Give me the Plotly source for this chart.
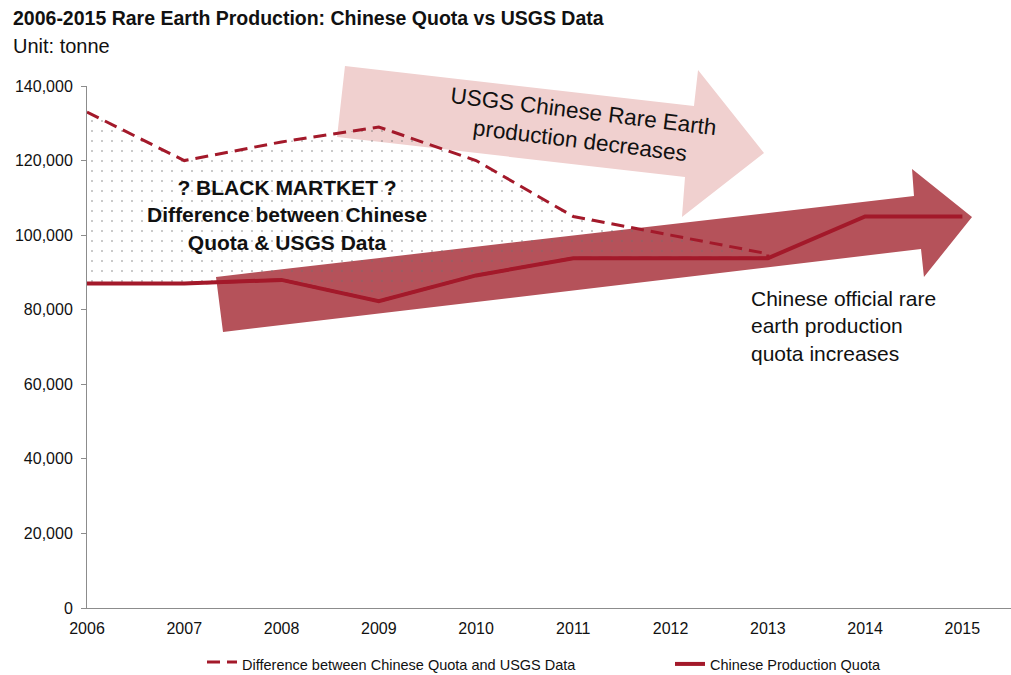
import plotly.graph_objects as go

years = [2006, 2007, 2008, 2009, 2010, 2011, 2012, 2013, 2014, 2015]
quota = [87000, 87000, 88000, 82300, 89200, 93800, 93800, 93800, 105000, 105000]
usgs_years = [2006, 2007, 2008, 2009, 2010, 2011, 2012, 2013]
usgs = [133000, 120000, 125000, 129000, 120000, 105000, 100000, 95000]

y_ticks = [0, 20000, 40000, 60000, 80000, 100000, 120000, 140000]

RED = "#a3192a"
FONT = "Liberation Sans, Arial, sans-serif"

W, H = 1011, 675
L, R, T, B = 87, 0, 86, 67
PW, PH = W - L - R, H - T - B


def px(x, y):
    return (x - L) / PW, (H - B - y) / PH


def path(points):
    pts = [px(x, y) for x, y in points]
    return "M " + " L ".join(f"{a:.4f},{b:.4f}" for a, b in pts) + " Z"


pink_arrow = [(345, 66), (694, 106), (698, 70), (764, 153), (682, 217), (685, 177), (337, 137)]
dark_arrow = [(216, 277), (914, 196), (912, 169), (972, 217), (924, 277), (921, 249), (223, 332)]

# closed polygon: USGS line forward, quota line back
poly_x = usgs_years + usgs_years[::-1]
poly_y = usgs + quota[:len(usgs_years)][::-1]

fig = go.Figure()
fig.add_trace(go.Scatter(
    x=poly_x, y=poly_y, mode="lines", fill="toself",
    fillcolor="rgba(0,0,0,0)",
    fillpattern=dict(shape=".", fgcolor="#6f6f6f", bgcolor="rgba(0,0,0,0)", size=10, solidity=0.03),
    line=dict(color=RED, width=3, dash="13px,7px"),
    name="Difference between Chinese Quota and USGS Data",
    legend="legend", hoverinfo="skip",
))
fig.add_trace(go.Scatter(
    x=years, y=quota, mode="lines",
    line=dict(color=RED, width=4),
    name="Chinese Production Quota",
    legend="legend2",
))

fig.add_shape(type="path", xref="paper", yref="paper", path=path(pink_arrow),
              fillcolor="#f0d0cf", line=dict(width=0), layer="below")
fig.add_shape(type="path", xref="paper", yref="paper", path=path(dark_arrow),
              fillcolor="#b5525a", line=dict(width=0), layer="below")


def ann(text, x, y, size, align="center", xanchor="center", angle=0):
    ax, ay = px(x, y)
    fig.add_annotation(xref="paper", yref="paper", x=ax, y=ay, text=text, showarrow=False,
                       font=dict(family=FONT, size=size, color="#111"), align=align,
                       xanchor=xanchor, yanchor="middle", textangle=angle)


ann("<b>2006-2015 Rare Earth Production: Chinese Quota vs USGS Data</b>", 11, 18, 19.5, xanchor="left", align="left")
ann("Unit: tonne", 11, 46, 20, xanchor="left", align="left")
ann("<b>? BLACK MARTKET ?<br>Difference between Chinese<br>Quota & USGS Data</b>", 287, 215, 21)
ann("USGS Chinese Rare Earth<br>production decreases", 582, 126, 22.5, angle=7)
ann("Chinese official rare<br>earth production<br>quota increases", 749, 326, 21, xanchor="left", align="left")

l1x, l1y = px(202, 648)
l2x, _ = px(670, 648)
leg_font = dict(size=14.5, family=FONT, color="#111")
fig.update_layout(
    width=W, height=H,
    margin=dict(l=L, r=R, t=T, b=B, autoexpand=False),
    paper_bgcolor="white", plot_bgcolor="white",
    font=dict(family=FONT, size=16, color="#111"),
    showlegend=True,
    legend=dict(orientation="h", x=l1x, y=l1y, xanchor="left", yanchor="top",
                font=leg_font, bgcolor="rgba(0,0,0,0)"),
    legend2=dict(orientation="h", x=l2x, y=l1y, xanchor="left", yanchor="top",
                 font=leg_font, bgcolor="rgba(0,0,0,0)"),
    xaxis=dict(range=[2006, 2015.5], tickvals=years, ticktext=[str(v) for v in years],
               showgrid=False, zeroline=False, showline=True, linecolor="#8c8c8c", linewidth=1,
               ticks="", tickfont=dict(size=16), ticklabelstandoff=6),
    yaxis=dict(range=[0, 140000], tickvals=y_ticks, ticktext=[f"{v:,}" for v in y_ticks],
               showgrid=False, zeroline=False, showline=True, linecolor="#8c8c8c", linewidth=1,
               ticks="outside", ticklen=5, tickcolor="#8c8c8c", tickfont=dict(size=16),
               ticklabelstandoff=5),
)

fig.write_html("out.html", config={"displayModeBar": False},
               post_script="document.body.style.margin='0px';")
